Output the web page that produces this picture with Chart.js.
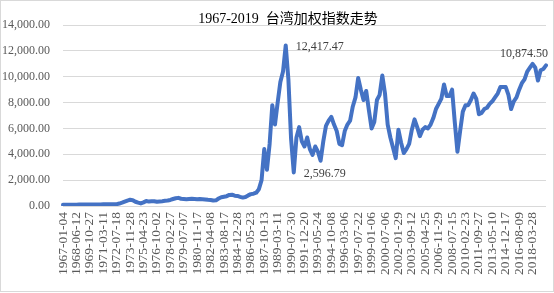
<!DOCTYPE html>
<html>
<head>
<meta charset="utf-8">
<script src="https://cdn.jsdelivr.net/npm/chart.js@4/dist/chart.umd.min.js"></script>
<style>
html,body{margin:0;padding:0;background:#fff;}
#wrap{width:554px;height:293px;position:relative;}
</style>
</head>
<body>
<div id="wrap"><canvas id="c" width="554" height="293"></canvas></div>
<script>
const titleText = "1967-2019  台湾加权指数走势";
const tickLabels = ["1967-01-04","1968-06-12","1969-10-27","1971-03-11","1972-07-18","1973-11-28","1975-04-23","1976-10-02","1978-02-27","1979-07-07","1980-11-17","1982-04-08","1983-08-17","1984-12-28","1986-05-23","1987-10-13","1989-03-11","1990-07-30","1991-12-20","1993-05-24","1994-10-08","1996-03-06","1997-07-22","1999-01-06","2000-07-06","2002-01-29","2003-09-12","2005-04-25","2006-11-29","2008-07-15","2010-02-23","2011-09-27","2013-05-10","2014-12-17","2016-08-09","2018-03-28"];
const pointsPerTick = 5;
const yTicks = [0,2000,4000,6000,8000,10000,12000,14000];
const indexValues = [
100,102,103,104,105,106,108,107,109,110,
112,115,118,121,124,126,128,131,133,136,
140,190,260,340,420,480,450,330,260,200,
280,390,340,360,370,330,350,370,400,430,
470,540,600,630,560,540,520,540,560,540,
520,540,530,510,480,460,420,440,580,680,
720,760,860,870,800,780,710,650,700,820,
920,950,1030,1300,2000,4400,2800,4800,7800,6300,
8000,9600,10400,12417.47,9800,5200,2596.79,5300,6100,5000,
4600,5300,4400,3950,4600,4200,3500,5000,6200,6600,
6900,6300,5800,4800,4700,5800,6300,6600,7700,8400,
9900,9000,8200,8900,7400,6000,6500,8200,8600,10100,
8700,6300,5300,4500,3700,5900,4900,4100,4400,4800,
5900,6700,6100,5400,5900,6100,6000,6300,6800,7500,
7900,8300,9400,8500,8500,9000,6500,4200,5800,7300,
7800,7800,8200,8700,8300,7100,7200,7500,7600,7900,
8100,8400,8700,9200,9200,9200,8600,7500,8100,8400,
9000,9500,9800,10400,10700,11000,10700,9700,10500,10600,
10874.50
];
const labeledPoints = [83, 86, indexValues.length - 1];

const categories = indexValues.map((v, i) => (i % pointsPerTick === 0 && tickLabels[i / pointsPerTick]) ? tickLabels[i / pointsPerTick] : "");
const fmt = v => v.toLocaleString("en-US", {minimumFractionDigits: 2, maximumFractionDigits: 2});

const decor = {
  id: "decor",
  beforeDraw(chart) {
    const ctx = chart.ctx;
    ctx.save();
    ctx.fillStyle = "#ffffff";
    ctx.fillRect(0, 0, chart.width, chart.height);
    ctx.strokeStyle = "#d9d9d9";
    ctx.lineWidth = 1;
    ctx.strokeRect(0.5, 0.5, chart.width - 1, chart.height - 2);
    ctx.fillStyle = "#000000";
    ctx.font = "14px 'Liberation Serif', 'Noto Sans CJK SC', serif";
    ctx.textAlign = "center";
    ctx.textBaseline = "middle";
    ctx.fillText(titleText, 288, 19);
    ctx.restore();
  },
  afterDatasetsDraw(chart) {
    const ctx = chart.ctx;
    const meta = chart.getDatasetMeta(0);
    ctx.save();
    ctx.fillStyle = "#404040";
    ctx.font = "12px 'Liberation Serif', serif";
    ctx.textBaseline = "middle";
    labeledPoints.forEach((idx, k) => {
      const pt = meta.data[idx];
      const txt = fmt(indexValues[idx]);
      if (k === labeledPoints.length - 1) {
        ctx.textAlign = "right";
        ctx.fillText(txt, pt.x + 2, pt.y - 12);
      } else {
        ctx.textAlign = "left";
        ctx.fillText(txt, pt.x + 10, pt.y + 1.5);
      }
    });
    ctx.restore();
  }
};

new Chart(document.getElementById("c"), {
  type: "line",
  data: {
    labels: categories,
    datasets: [{
      data: indexValues,
      borderColor: "#4472C4",
      borderWidth: 4,
      pointRadius: 0,
      tension: 0,
      fill: false,
      borderJoinStyle: "round",
      borderCapStyle: "round"
    }]
  },
  options: {
    responsive: false,
    animation: false,
    devicePixelRatio: 1,
    layout: { padding: { left: 0, right: 8, top: 25, bottom: 0 } },
    plugins: { legend: { display: false }, title: { display: false }, tooltip: { enabled: false } },
    scales: {
      x: {
        type: "category",
        offset: false,
        grid: { display: false, drawTicks: false },
        border: { display: false },
        ticks: {
          autoSkip: false,
          minRotation: 90,
          maxRotation: 90,
          padding: 6,
          color: "#595959",
          font: { family: "'Liberation Serif', serif", size: 13.5 }
        },
        afterFit(scale) { scale.height = 87; scale.paddingLeft = 0; scale.paddingRight = 0; }
      },
      y: {
        min: 0,
        max: 14000,
        afterBuildTicks(scale) { scale.ticks = yTicks.map(v => ({ value: v })); },
        grid: { color: "#d9d9d9", lineWidth: 1, drawTicks: false },
        border: { display: false },
        ticks: {
          padding: 13,
          color: "#595959",
          font: { family: "'Liberation Serif', serif", size: 12 },
          callback: v => fmt(v)
        },
        afterFit(scale) { scale.width = 63; scale.paddingTop = 0; scale.paddingBottom = 0; }
      }
    }
  },
  plugins: [decor]
});
</script>
</body>
</html>
